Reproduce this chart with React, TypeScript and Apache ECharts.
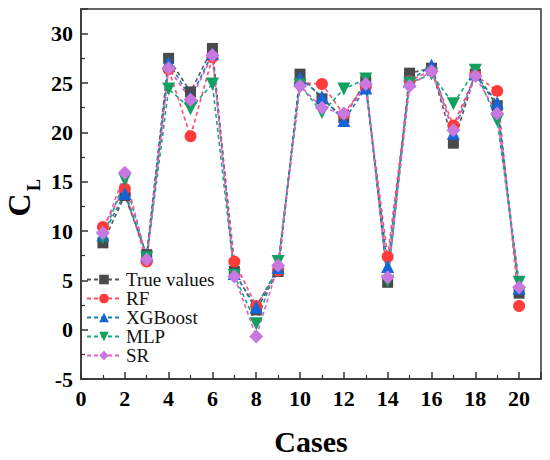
import React, { useEffect, useRef } from "react";
import * as echarts from "echarts";

const cases = [1, 2, 3, 4, 5, 6, 7, 8, 9, 10, 11, 12, 13, 14, 15, 16, 17, 18, 19, 20];
const trueValues = [8.8, 13.6, 7.6, 27.5, 24.1, 28.5, 5.9, 2.0, 5.9, 25.9, 23.4, 21.5, 25.2, 4.8, 26.0, 26.5, 18.9, 25.9, 22.7, 3.7];
const rfValues = [10.4, 14.3, 6.9, 26.4, 19.6, 27.6, 6.9, 2.4, 6.0, 25.0, 24.9, 21.8, 24.6, 7.4, 25.2, 26.3, 20.7, 25.8, 24.2, 2.4];
const xgbValues = [9.6, 13.8, 7.5, 27.1, 23.5, 28.0, 5.7, 2.3, 6.3, 25.5, 23.6, 21.2, 24.5, 6.4, 25.2, 26.8, 19.9, 25.9, 23.0, 4.2];
const mlpValues = [9.3, 15.2, 7.3, 24.4, 22.4, 24.9, 5.5, 0.6, 6.9, 24.8, 22.0, 24.4, 25.4, 4.9, 25.0, 25.9, 22.9, 26.3, 21.2, 4.8];
const srValues = [9.8, 15.9, 7.1, 26.5, 23.3, 27.8, 5.4, -0.7, 6.5, 24.7, 22.5, 21.9, 24.9, 5.3, 24.7, 26.2, 20.2, 25.7, 21.9, 4.3];

const seriesDefs = [
  { name: "True values", data: trueValues, symbol: "rect", size: 11, rotate: 0, color: "#4a4a4a", line: "#555555" },
  { name: "RF", data: rfValues, symbol: "circle", size: 12, rotate: 0, color: "#ff3b3b", line: "#ff4d6a" },
  { name: "XGBoost", data: xgbValues, symbol: "triangle", size: 13, rotate: 0, color: "#1565d8", line: "#1a7fb5" },
  { name: "MLP", data: mlpValues, symbol: "triangle", size: 13, rotate: 180, color: "#10a060", line: "#15a883" },
  { name: "SR", data: srValues, symbol: "diamond", size: 14, rotate: 0, color: "#c878e0", line: "#e060c0" },
];

const FONT = "Liberation Serif";

export default function App() {
  const ref = useRef<HTMLDivElement>(null);
  useEffect(() => {
    document.body.style.margin = "0";
    if (!ref.current) return;
    const chart = echarts.init(ref.current, undefined, { renderer: "svg" });
    const labelStyle = { fontFamily: FONT, fontSize: 22, fontWeight: "bold", color: "#000" };
    chart.setOption({
      animation: false,
      backgroundColor: "#ffffff",
      textStyle: { fontFamily: FONT },
      grid: {
        left: 81,
        right: 9,
        top: 9,
        bottom: 81,
        show: true,
        borderColor: "#333333",
        borderWidth: 1.5,
        outerBoundsMode: "none",
        containLabel: false,
      },
      graphic: [
        {
          type: "text",
          x: 19,
          y: 205,
          rotation: Math.PI / 2,
          style: { text: "C", fontFamily: FONT, fontSize: 32, fontWeight: "bold", fill: "#000", align: "center", verticalAlign: "middle" },
        },
        {
          type: "text",
          x: 34,
          y: 185,
          rotation: Math.PI / 2,
          style: { text: "L", fontFamily: FONT, fontSize: 18, fontWeight: "bold", fill: "#000", align: "center", verticalAlign: "middle" },
        },
      ],
      legend: {
        orient: "vertical",
        left: 84,
        top: 268,
        itemWidth: 34,
        itemHeight: 12,
        itemGap: 0,
        padding: 2,
        textStyle: { fontFamily: FONT, fontSize: 19, color: "#111", lineHeight: 17.5 },
        data: seriesDefs.map((s) => s.name),
      },
      xAxis: {
        type: "value",
        min: 0,
        max: 21,
        interval: 2,
        name: "Cases",
        nameLocation: "middle",
        nameGap: 47,
        nameTextStyle: { fontFamily: FONT, fontSize: 30, fontWeight: "bold", color: "#000" },
        axisLine: { show: true, onZero: false, lineStyle: { color: "#333", width: 1.5 } },
        axisTick: { show: true, inside: true, length: 7, lineStyle: { color: "#333", width: 1.5 } },
        minorTick: { show: true, splitNumber: 2, length: 4, lineStyle: { color: "#333", width: 1.2 } },
        splitLine: { show: false },
        axisLabel: { showMaxLabel: false, margin: 8, ...labelStyle },
      },
      yAxis: {
        type: "value",
        min: -5,
        max: 32.5,
        interval: 5,
        axisLine: { show: true, onZero: false, lineStyle: { color: "#333", width: 1.5 } },
        axisTick: { show: true, inside: true, length: 7, lineStyle: { color: "#333", width: 1.5 } },
        minorTick: { show: true, splitNumber: 2, length: 4, lineStyle: { color: "#333", width: 1.2 } },
        splitLine: { show: false },
        axisLabel: { showMaxLabel: false, margin: 8, ...labelStyle },
      },
      series: seriesDefs.map((s) => ({
        name: s.name,
        type: "line",
        data: s.data.map((v, i) => [cases[i], v]),
        symbol: s.symbol,
        symbolSize: s.size,
        symbolRotate: s.rotate,
        itemStyle: { color: s.color, borderWidth: 0 },
        lineStyle: { color: s.line, width: 1.6, type: [4, 3] },
        emphasis: { disabled: true },
      })),
    });
    return () => chart.dispose();
  }, []);
  return <div ref={ref} style={{ width: 550, height: 460 }} />;
}
